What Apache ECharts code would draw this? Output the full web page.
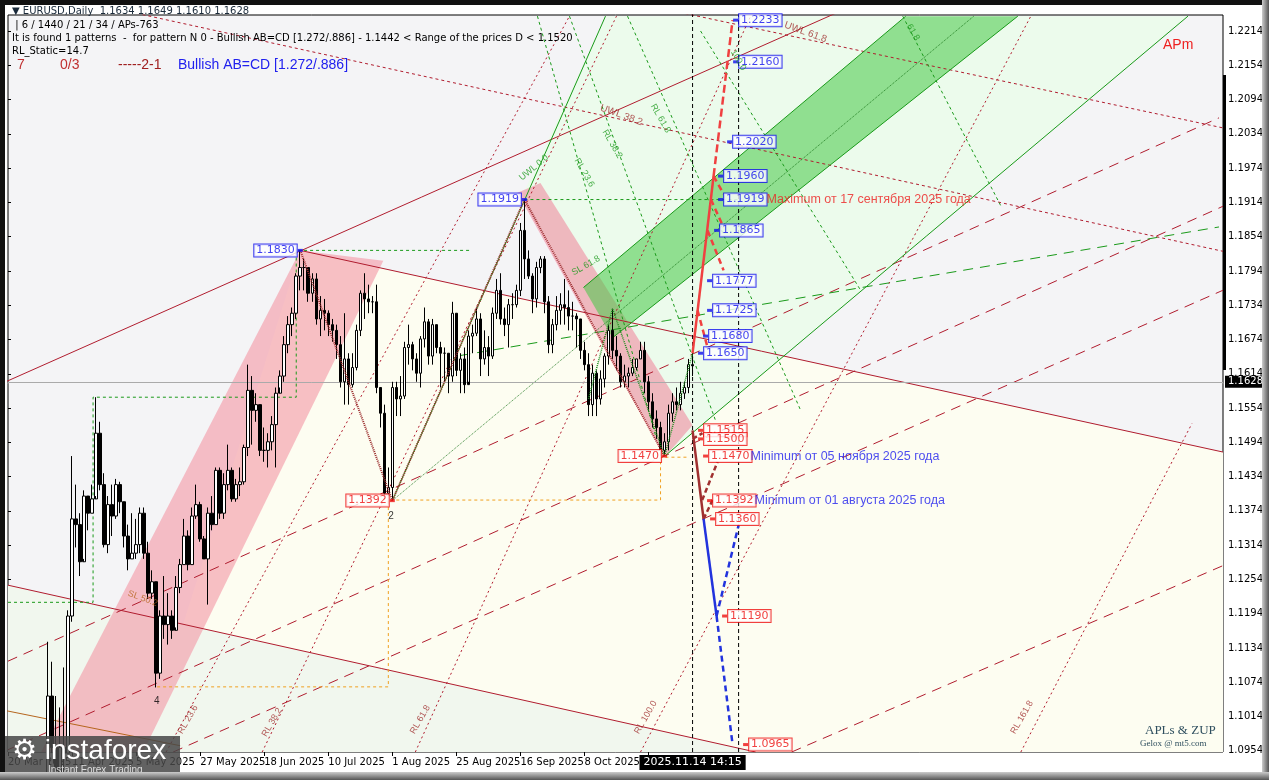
<!DOCTYPE html>
<html><head><meta charset="utf-8">
<script src="https://cdn.jsdelivr.net/npm/echarts@6/dist/echarts.min.js"></script>
<style>html,body{margin:0;padding:0;background:#fff}#c{width:1269px;height:780px}</style>
</head><body><div id="c"></div>
<script>
// ---- DATA ----
const closes=[1.0856,1.0815,1.0801,1.0790,1.0753,1.0799,1.0830,1.0815,
1.0790,1.0850,1.1050,1.0960,1.0910,1.0960,1.0950,1.1190,1.1360,1.1350,1.1285,1.1400,1.1370,1.1395,1.1510,1.1420,1.1315,1.1385,1.1365,1.1420,1.1390,1.1330,
1.1290,1.1300,1.1315,1.1370,1.1300,1.1230,1.1250,1.1090,1.1190,1.1175,1.1190,1.1165,1.1240,1.1280,1.1330,1.1280,1.1365,1.1385,1.1325,1.1290,1.1370,1.1350,
1.1445,1.1370,1.1420,1.1445,1.1395,1.1420,1.1425,1.1485,1.1585,1.1550,1.1560,1.1480,1.1480,1.1495,1.1525,1.1580,1.1610,1.1665,1.1700,1.1720,1.1785,
1.1800,1.1800,1.1755,1.1780,1.1710,1.1725,1.1720,1.1700,1.1690,1.1665,1.1600,1.1640,1.1595,1.1625,1.1690,1.1755,1.1745,1.1740,1.1740,1.1590,1.1545,1.1405,1.1415,
1.1590,1.1570,1.1575,1.1660,1.1665,1.1640,1.1615,1.1675,1.1705,1.1645,1.1700,1.1660,1.1650,1.1650,1.1610,1.1720,1.1620,1.1640,1.1595,1.1680,1.1685,
1.1710,1.1640,1.1660,1.1645,1.1720,1.1760,1.1710,1.1700,1.1735,1.1735,1.1760,1.1865,1.1815,1.1785,1.1745,1.1800,1.1815,1.1740,1.1665,1.1700,1.1725,1.1735,
1.1730,1.1715,1.1715,1.1710,1.1655,1.1630,1.1560,1.1615,1.1570,1.1605,1.1645,1.1690,1.1655,1.1645,1.1600,1.1610,1.1615,1.1625,1.1640,1.1655,1.1600,1.1565,1.1535,
1.1520,1.1480,1.1495,1.1545,1.1565,1.1560,1.1580,1.1590,1.1630,1.1628];
const highs=[1.0900,1.0870,1.0860,1.0830,1.0800,1.0810,1.0850,1.0840,
1.0830,1.0880,1.1145,1.1110,1.1050,1.1030,1.1100,1.1200,1.1470,1.1420,1.1370,1.1410,1.1390,1.1420,1.1573,1.1530,1.1440,1.1400,1.1420,1.1430,1.1425,1.1390,
1.1350,1.1370,1.1360,1.1380,1.1380,1.1320,1.1270,1.1250,1.1200,1.1260,1.1230,1.1200,1.1260,1.1290,1.1360,1.1340,1.1380,1.1420,1.1390,1.1330,1.1380,1.1400,
1.1450,1.1450,1.1440,1.1490,1.1450,1.1430,1.1450,1.1490,1.1630,1.1610,1.1580,1.1560,1.1520,1.1510,1.1540,1.1590,1.1620,1.1680,1.1715,1.1730,1.1790,
1.1830,1.1815,1.1800,1.1790,1.1790,1.1750,1.1745,1.1725,1.1710,1.1700,1.1680,1.1720,1.1650,1.1650,1.1700,1.1760,1.1790,1.1770,1.1750,1.1770,1.1590,1.1560,1.1450,
1.1600,1.1600,1.1610,1.1670,1.1700,1.1670,1.1650,1.1680,1.1730,1.1710,1.1710,1.1700,1.1670,1.1660,1.1650,1.1740,1.1720,1.1650,1.1660,1.1690,1.1700,
1.1730,1.1720,1.1690,1.1680,1.1730,1.1780,1.1790,1.1730,1.1745,1.1755,1.1770,1.1878,1.1919,1.1830,1.1790,1.1810,1.1820,1.1820,1.1750,1.1710,1.1750,1.1755,
1.1780,1.1760,1.1740,1.1720,1.1710,1.1670,1.1650,1.1630,1.1620,1.1620,1.1650,1.1700,1.1728,1.1680,1.1650,1.1630,1.1625,1.1640,1.1640,1.1670,1.1670,1.1610,1.1580,
1.1550,1.1530,1.1510,1.1560,1.1580,1.1590,1.1600,1.1600,1.1640,1.1650];
const lows=[1.0830,1.0800,1.0780,1.0770,1.0740,1.0745,1.0790,1.0770,
1.0780,1.0780,1.0850,1.0950,1.0880,1.0900,1.0890,1.0950,1.1180,1.1310,1.1260,1.1290,1.1340,1.1370,1.1400,1.1410,1.1310,1.1300,1.1330,1.1360,1.1370,1.1310,
1.1270,1.1290,1.1290,1.1300,1.1290,1.1220,1.1220,1.1065,1.1080,1.1150,1.1140,1.1150,1.1170,1.1230,1.1280,1.1270,1.1280,1.1360,1.1320,1.1290,1.1210,1.1340,
1.1350,1.1360,1.1360,1.1410,1.1390,1.1390,1.1400,1.1420,1.1470,1.1490,1.1530,1.1470,1.1460,1.1450,1.1480,1.1450,1.1590,1.1600,1.1650,1.1680,1.1710,
1.1760,1.1760,1.1740,1.1740,1.1700,1.1680,1.1690,1.1680,1.1670,1.1640,1.1590,1.1560,1.1560,1.1590,1.1620,1.1680,1.1710,1.1720,1.1720,1.1580,1.1520,1.1400,1.1400,
1.1392,1.1540,1.1540,1.1570,1.1630,1.1620,1.1600,1.1590,1.1660,1.1630,1.1630,1.1650,1.1590,1.1600,1.1580,1.1600,1.1610,1.1580,1.1580,1.1600,1.1650,
1.1680,1.1610,1.1630,1.1610,1.1640,1.1710,1.1700,1.1680,1.1660,1.1710,1.1730,1.1750,1.1780,1.1780,1.1720,1.1730,1.1790,1.1720,1.1650,1.1650,1.1690,1.1700,
1.1700,1.1690,1.1690,1.1660,1.1640,1.1620,1.1540,1.1540,1.1540,1.1560,1.1590,1.1630,1.1640,1.1620,1.1590,1.1590,1.1590,1.1610,1.1620,1.1640,1.1580,1.1550,1.1520,
1.1500,1.1470,1.1470,1.1480,1.1530,1.1550,1.1550,1.1570,1.1580,1.1610];
const firstOpen=1.0880;
const xTickIdx=[0,16,32,48,64,80,96,112,128,144,160];
const xTickText=['20 Mar 2025','11 Apr 2025','5 May 2025','27 May 2025','18 Jun 2025','10 Jul 2025','1 Aug 2025','25 Aug 2025','16 Sep 2025','8 Oct 2025','30 Oct 2025'];
const yTicks=[1.0954,1.1014,1.1074,1.1134,1.1194,1.1254,1.1314,1.1374,1.1434,1.1494,1.1554,1.1614,1.1674,1.1734,1.1794,1.1854,1.1914,1.1974,1.2034,1.2094,1.2154,1.2214];
const lastPrice=1.1628;
const zigzag=[[73,1.1830],[96,1.1392],[129,1.1919],[164,1.1470]];
const greenZig=[[145,1.1570],[151,1.1728],[164,1.1470],[171,1.1650]];
const upMain=[[171,1.1650],[176.25,1.1960]];
const upDash=[[176.25,1.1960],[181,1.2233]];
const upBranches=[[[176.25,1.1960],[178.75,1.1929]],[[175.6,1.1919],[178.75,1.1870]],[[174.75,1.1865],[178.75,1.1795]],[[172.25,1.1725],[174.75,1.1660]]];
const downMain=[[171,1.1515],[173.75,1.1360]];
const downBranches=[[[173.75,1.1360],[176,1.1393]],[[173.4,1.1393],[177.25,1.1460]],[[171,1.1500],[173.5,1.1510]]];
const blueSolid=[[173.75,1.1360],[177,1.1190]];
const blueDash1=[[177,1.1190],[182.5,1.1349]];
const blueDash2=[[177,1.1190],[181,1.0965]];
const blueBoxes=[[181.75,1.2233],[181.75,1.2160],[180.25,1.2020],[178,1.1960],[178,1.1919],[177,1.1865],[175.25,1.1777],[175.25,1.1725],[174.25,1.1680],[173,1.1650]];
const redBoxes=[[173,1.1515],[173,1.1500],[174.25,1.1470],[175.25,1.1392],[176,1.1360],[179,1.1190],[184.25,1.0965]];
const leftBoxes=[[129,1.1919,'b'],[73,1.1830,'b'],[164,1.1470,'r'],[96,1.1392,'r']];

// ---- BUILD ----
const candles=closes.map((c,i)=>[i,i===0?firstOpen:closes[i-1],c,lows[i],highs[i]]);
const RED='#b01c2e', GRN='#1a9a1a';
const S=[];
function seg(pts,color,type,width,z){S.push({type:'line',data:pts,symbol:'none',silent:true,animation:false,z:z||4,lineStyle:{color:color,type:type||'solid',width:width||1}});}
function poly(pts,fill,z){S.push({type:'custom',silent:true,animation:false,z:z||1,clip:true,data:[pts[0]],
 renderItem:(p,api)=>({type:'polygon',shape:{points:pts.map(q=>api.coord(q))},style:{fill:fill}})});}
poly([[73,1.1830],[303.5,1.1477],[303.5,1.0952],[33.75,1.0952]],'#fdfdf1',0);
poly([[0,1.1244],[186.75,1.0952],[0,1.0952]],'#f1f7ee',0);
poly([[128.5,1.1926],[149.25,1.2240],[294.75,1.2240],[164.25,1.1471]],'#ecfbec',0);
poly([[73,1.1830],[93.75,1.1812],[33.75,1.0952],[8.25,1.0952]],'rgba(244,150,165,0.6)',1);
poly([[127.25,1.1931],[133,1.1948],[171,1.1524],[164,1.1468]],'rgba(240,140,160,0.6)',1);
poly([[143.75,1.1765],[224.25,1.2240],[252.25,1.2240],[151,1.1677]],'rgba(70,200,70,0.55)',2);
seg([[-0.25,1.1601],[208,1.2249]],RED);
seg([[73,1.1830],[303.5,1.1477]],RED);
seg([[0,1.1244],[186.75,1.0952]],RED);
seg([[-0.25,1.1024],[43,1.0963]],'#b5651d');
const dsh=[10,7];
seg([[0,1.1111],[302.5,1.2062]],RED,dsh);
seg([[0,1.0956],[303.75,1.1908]],RED,dsh);
seg([[41.25,1.0952],[303.75,1.1761]],RED,dsh);
seg([[195.75,1.0952],[303.75,1.1279]],RED,dsh);
const dot=[2,3];
seg([[39.5,1.0952],[140.25,1.2240]],RED,dot);
seg([[63.5,1.0952],[152,1.2240]],RED,dot);
seg([[101.75,1.0952],[185.5,1.2240]],RED,dot);
seg([[158,1.0952],[255.5,1.2240]],RED,dot);
seg([[253,1.0952],[295.75,1.1527]],RED,dot);
seg([[26.25,1.2254],[303.75,1.1828]],RED,[3,3]);
seg([[166.25,1.2249],[303.75,1.2044]],RED,[3,3]);
seg([[113,1.1646],[302.5,1.1871]],GRN,[10,7]);
seg([[96,1.1392],[241.25,1.2240]],'#0d6b0d',1,0.8);
seg([[96,1.1392],[149.25,1.2240]],GRN);
seg([[164.25,1.1471],[294.75,1.2240]],GRN);
seg([[143.75,1.1765],[224.25,1.2240]],GRN);
seg([[151,1.1677],[252.25,1.2240]],GRN);
seg([[132.25,1.2240],[161.75,1.1506]],GRN,[3,3]);
seg([[140.25,1.2240],[176.75,1.1532]],GRN,[3,3]);
seg([[154.75,1.2240],[198,1.1550]],GRN,[3,3]);
seg([[173,1.2214],[213,1.1760]],GRN,[3,3]);
seg([[223.5,1.2240],[248,1.1908]],GRN,[3,3]);
seg([[0,1.1214],[21.25,1.1214],[21.25,1.1573],[72,1.1573],[72,1.1830],[115.5,1.1830]],GRN,[3,3]);
seg([[129,1.1919],[183,1.1919]],GRN,[3,3]);
seg([[37.25,1.1066],[95,1.1066],[95,1.1393],[163,1.1393],[163,1.1468],[170,1.1468]],'#f0a020',[3,3]);
seg([[171,1.0952],[171,1.2249]],'#000',[4,3]);
seg([[182.5,1.0952],[182.5,1.2249]],'#000',[4,3]);
seg(zigzag,'#9b2d2d',1,2,6);
seg(greenZig,'#1c8c1c',1,1.5,6);
seg(upMain,'#f04040','solid',2.5,7);
seg(upDash,'#f04040',[8,4],2.5,7);
upBranches.forEach(b=>seg(b,'#f04040',[6,4],2.5,7));
seg(downMain,'#a03030','solid',2.5,7);
downBranches.forEach(b=>seg(b,'#a03030',[5,3],2.5,7));
seg(blueSolid,'#2233dd','solid',2.5,7);
seg(blueDash1,'#2233dd',[6,4],2.5,7);
seg(blueDash2,'#2233dd',[6,4],2.5,7);
S.push({type:'candlestick',data:candles,encode:{x:0,y:[1,2,3,4]},barWidth:3,z:5,animation:false,
 itemStyle:{color:'#fff',color0:'#000',borderColor:'#000',borderColor0:'#000',borderWidth:1},
 markLine:{symbol:'none',silent:true,animation:false,data:[{yAxis:lastPrice,lineStyle:{color:'#aaa',type:'solid',width:1},
  label:{position:'end',formatter:'1.1628',color:'#fff',backgroundColor:'#000',padding:[1,3],fontSize:10,fontFamily:'DejaVu Sans',distance:2}},
  {xAxis:171,lineStyle:{color:'transparent'},label:{position:'start',formatter:'2025.11.14 14:15',color:'#fff',backgroundColor:'#000',padding:[2,4],fontSize:11,fontFamily:'DejaVu Sans',distance:3}}]}});
function boxItem(p,col,pos){return {value:[p[0],p[1]],itemStyle:{color:col},label:{show:true,position:pos,distance:1,formatter:p[1].toFixed(4),color:col,fontSize:11,fontFamily:'DejaVu Sans',backgroundColor:'#fff',borderColor:col,borderWidth:1,padding:[1,2,0,2]}};}
S.push({type:'scatter',symbol:'rect',symbolSize:[5,3],z:10,animation:false,silent:true,
 data:blueBoxes.map(p=>boxItem(p,'#1010ee','right')).concat(redBoxes.map(p=>boxItem(p,'#ee1010','right')),
 leftBoxes.map(p=>boxItem(p,p[2]==='b'?'#1010ee':'#ee1010','left')))});
function txt(i,p,t,col,size,rot){return {value:[i,p],label:{show:true,position:'right',distance:0,formatter:t,color:col,fontSize:size,rotate:rot||0,fontFamily:'Liberation Sans'}};}
S.push({type:'scatter',symbolSize:0,z:11,animation:false,silent:true,data:[
 txt(189.5,1.1919,'Maximum от 17 сентября 2025 года','#ee2020',12.5),
 txt(185.5,1.1470,'Minimum от 05 ноября 2025 года','#2020ee',12.5),
 txt(186.5,1.1392,'Minimum от 01 августа 2025 года','#2020ee',12.5),
 txt(128,1.1955,'UWL 0.0',GRN,9,40),txt(148,1.2080,'UWL 38.2','#a03030',10,-20),txt(194,1.2225,'UWL 61.8','#a03030',10,-20),
 txt(142,1.1990,'RL 23.6',GRN,9,-60),txt(149,1.2040,'RL 38.2',GRN,9,-60),txt(161,1.2085,'RL 61.8',GRN,9,-60),txt(181,1.2180,'100.0',GRN,9,-60),
 txt(225,1.2225,'61.8',GRN,9,-60),txt(141,1.1790,'SL 61.8',GRN,9,30),
 txt(30,1.1230,'SL 50.2','#b5651d',9,-20),txt(43,1.0985,'RL 23.6','#a03030',9,60),txt(64,1.0980,'RL 38.2','#a03030',9,60),
 txt(101,1.0985,'RL 61.8','#a03030',9,60),txt(157,1.0985,'RL 100.0','#a03030',9,60),txt(251,1.0985,'RL 161.8','#a03030',9,60),
 txt(36.5,1.1040,'4','#000',10),txt(95,1.1365,'2','#000',10)]});

const chart=echarts.init(document.getElementById('c'));
chart.setOption({animation:false,backgroundColor:'#fff',
 grid:{left:8,right:46,top:15,bottom:28,show:true,backgroundColor:'#f4f4f6',borderColor:'#000',borderWidth:1},
 xAxis:{type:'value',min:0,max:303.5,splitLine:{show:false},axisLine:{show:false},
  axisTick:{show:true,customValues:xTickIdx,length:4,lineStyle:{color:'#000'}},
  axisLabel:{customValues:xTickIdx,formatter:v=>xTickText[xTickIdx.indexOf(v)]||'',align:'left',fontSize:10,color:'#000',fontFamily:'DejaVu Sans',margin:5}},
 yAxis:{type:'value',position:'right',min:1.0952,max:1.2242,splitLine:{show:false},axisLine:{show:false},
  axisTick:{show:true,customValues:yTicks,length:3,lineStyle:{color:'#000'}},
  axisLabel:{customValues:yTicks,formatter:v=>v.toFixed(4),fontSize:10,color:'#000',fontFamily:'DejaVu Sans',margin:5}},
 series:S,
 graphic:[
  {type:'rect',shape:{x:0,y:0,width:1269,height:5},style:{fill:'#111'},z:100},
  {type:'rect',shape:{x:0,y:0,width:5,height:780},style:{fill:'#111'},z:100},
  {type:'rect',shape:{x:1262,y:0,width:7,height:780},style:{fill:new echarts.graphic.LinearGradient(0,0,1,0,[{offset:0,color:'#ccc'},{offset:1,color:'#555'}])},z:100},
  {type:'rect',shape:{x:0,y:772,width:1269,height:8},style:{fill:new echarts.graphic.LinearGradient(0,0,0,1,[{offset:0,color:'#ccc'},{offset:1,color:'#555'}])},z:100},
  {type:'rect',shape:{x:1223,y:75,width:3,height:295},style:{fill:'#000'},z:50},
  {type:'text',left:12,top:6,style:{text:'▼ EURUSD,Daily  1.1634 1.1649 1.1610 1.1628',fontSize:10,fill:'#1a2a3a',fontFamily:'DejaVu Sans'},z:60},
  {type:'text',left:12,top:20,style:{text:' | 6 / 1440 / 21 / 34 / APs-763',fontSize:10,fill:'#000',fontFamily:'DejaVu Sans'},z:60},
  {type:'text',left:12,top:33,style:{text:'It is found 1 patterns  -  for pattern N 0 - Bullish AB=CD [1.272/.886] - 1.1442 < Range of the prices D < 1.1520',fontSize:10,fill:'#000',fontFamily:'DejaVu Sans'},z:60},
  {type:'text',left:12,top:46,style:{text:'RL_Static=14.7',fontSize:10,fill:'#000',fontFamily:'DejaVu Sans'},z:60},
  {type:'text',left:17,top:58,style:{text:'7',fontSize:14,fill:'#c03030',fontFamily:'Liberation Sans'},z:60},
  {type:'text',left:60,top:58,style:{text:'0/3',fontSize:14,fill:'#c03030',fontFamily:'Liberation Sans'},z:60},
  {type:'text',left:118,top:58,style:{text:'-----2-1',fontSize:14,fill:'#a02020',fontFamily:'Liberation Sans'},z:60},
  {type:'text',left:178,top:58,style:{text:'Bullish AB=CD [1.272/.886]',fontSize:14,fill:'#2020ee',fontFamily:'Liberation Sans'},z:60},
  {type:'text',left:1163,top:38,style:{text:'APm',fontSize:14,fill:'#ee2020',fontFamily:'Liberation Sans'},z:60},
  {type:'text',left:1145,top:724,style:{text:'APLs & ZUP',fontSize:13,fill:'#2f4f5f',fontFamily:'Liberation Serif'},z:60},
  {type:'text',left:1140,top:739,style:{text:'Gelox @ mt5.com',fontSize:9,fill:'#2f4f5f',fontFamily:'Liberation Serif'},z:60},
  {type:'rect',shape:{x:0,y:736,width:180,height:44},style:{fill:'rgba(70,70,70,0.85)'},z:90},
  {type:'text',left:12,top:737,style:{text:'⚙ instaforex',fontSize:28,fill:'#fff',fontFamily:'Liberation Sans'},z:91},
  {type:'text',left:48,top:765,style:{text:'Instant Forex Trading',fontSize:10,fill:'#ddd',fontFamily:'Liberation Sans'},z:91}
 ]});
</script></body></html>
